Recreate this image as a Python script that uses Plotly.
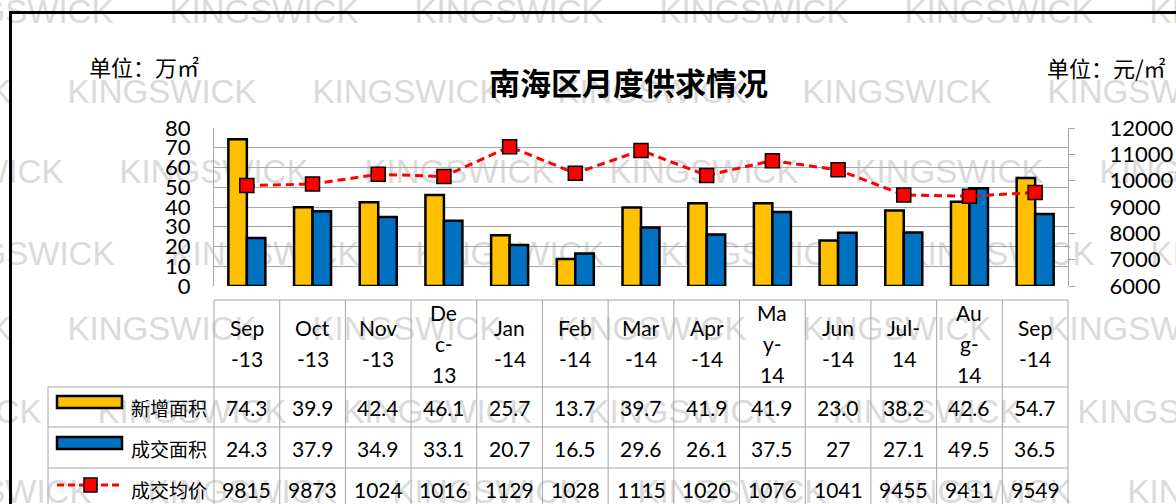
import plotly.graph_objects as go

W, H = 1176, 504

# ---------------- data ----------------
categories = ["Sep-13", "Oct-13", "Nov-13", "Dec-13", "Jan-14", "Feb-14", "Mar-14",
              "Apr-14", "May-14", "Jun-14", "Jul-14", "Aug-14", "Sep-14"]
header_labels = ["Sep\n-13", "Oct\n-13", "Nov\n-13", "De\nc-\n13", "Jan\n-14", "Feb\n-14",
                 "Mar\n-14", "Apr\n-14", "Ma\ny-\n14", "Jun\n-14", "Jul-\n14", "Au\ng-\n14",
                 "Sep\n-14"]
new_supply = [74.3, 39.9, 42.4, 46.1, 25.7, 13.7, 39.7, 41.9, 41.9, 23.0, 38.2, 42.6, 54.7]
deal_area = [24.3, 37.9, 34.9, 33.1, 20.7, 16.5, 29.6, 26.1, 37.5, 27, 27.1, 49.5, 36.5]
avg_price = [9815, 9873, 10240, 10160, 11290, 10280, 11150, 10200, 10760, 10410, 9455, 9411, 9549]
series_names = ["新增面积", "成交面积", "成交均价"]
left_ticks = [0, 10, 20, 30, 40, 50, 60, 70, 80]
right_ticks = [6000, 7000, 8000, 9000, 10000, 11000, 12000]

title_text = "南海区月度供求情况"
unit_left = "单位：万㎡"
unit_right = "单位：元/㎡"
watermark = "KINGSWICK"

# ---------------- styles ----------------
NUM = "Lato, Liberation Sans, sans-serif"
CJK = "Noto Sans CJK SC, sans-serif"
NUM_SIZE = 20
YELLOW = "#FFC000"
BLUE = "#0070C0"
RED = "#FF0000"
GRID = "#a6a6a6"

PL, PR, PT, PB = 214, 1068, 128, 286   # plot area in pixels


def px(x):
    return x / W


def py(y):
    return 1 - y / H


fig = go.Figure()
fig.add_trace(go.Bar(x=categories, y=new_supply, name=series_names[0], yaxis="y",
                     marker=dict(color=YELLOW, line=dict(color="black", width=2.5))))
fig.add_trace(go.Bar(x=categories, y=deal_area, name=series_names[1], yaxis="y",
                     marker=dict(color=BLUE, line=dict(color="black", width=2.5))))
fig.add_trace(go.Scatter(x=categories, y=avg_price, name=series_names[2], yaxis="y2",
                         mode="lines+markers",
                         line=dict(color=RED, width=3, dash="8px,5px"),
                         marker=dict(symbol="square", size=14, color=RED,
                                     line=dict(color="black", width=1.5))))

shapes = []
annotations = []

# ---- watermark (behind everything) ----
wm_rows_y = [8, 88, 168, 250, 325, 408, 488]
wm_rows_x0 = [-78, -180, -128, -77, -180, -150, -100]
for yy, x0 in zip(wm_rows_y, wm_rows_x0):
    cx = x0 + 97
    while cx - 100 < W:
        shapes.append(dict(type="rect", xref="paper", yref="paper",
                           x0=px(cx - 100), x1=px(cx + 100), y0=py(yy + 18), y1=py(yy - 18),
                           line=dict(width=0), fillcolor="rgba(0,0,0,0)", layer="below",
                           label=dict(text=watermark, textposition="middle center",
                                      font=dict(family="Liberation Sans, Arial, sans-serif",
                                                size=33, color="#dadada"))))
        cx += 245

# ---- outer black frame ----
shapes.append(dict(type="line", xref="paper", yref="paper", x0=px(9), x1=px(W + 5),
                   y0=py(12.5), y1=py(12.5), line=dict(color="black", width=3)))
shapes.append(dict(type="line", xref="paper", yref="paper", x0=px(10.5), x1=px(10.5),
                   y0=py(11), y1=py(H + 5), line=dict(color="black", width=3)))

# ---- data table grid ----
n = len(categories)
col_w = (PR - PL) / n
TABLE_TOP, ROW1, ROW2, ROW3, LEG_L = 300, 387, 427, 468, 48


def hline(x0, x1, y):
    shapes.append(dict(type="line", xref="paper", yref="paper", x0=px(x0), x1=px(x1),
                       y0=py(y), y1=py(y), line=dict(color=GRID, width=1)))


def vline(x, y0, y1):
    shapes.append(dict(type="line", xref="paper", yref="paper", x0=px(x), x1=px(x),
                       y0=py(y0), y1=py(y1), line=dict(color=GRID, width=1)))


hline(PL, PR, TABLE_TOP)
for yy in (ROW1, ROW2, ROW3):
    hline(LEG_L, PR, yy)
for i in range(n + 1):
    vline(PL + i * col_w, TABLE_TOP, H + 5)
vline(LEG_L, ROW1, H + 5)

# ---- legend keys in the table ----
shapes.append(dict(type="rect", xref="paper", yref="paper", x0=px(57), x1=px(122),
                   y0=py(408), y1=py(396), fillcolor=YELLOW, line=dict(color="black", width=2.5)))
shapes.append(dict(type="rect", xref="paper", yref="paper", x0=px(57), x1=px(122),
                   y0=py(449), y1=py(437), fillcolor=BLUE, line=dict(color="black", width=2.5)))
shapes.append(dict(type="line", xref="paper", yref="paper", x0=px(57), x1=px(122),
                   y0=py(485), y1=py(485), line=dict(color=RED, width=3, dash="7px,4px")))
shapes.append(dict(type="rect", xref="paper", yref="paper", x0=px(84), x1=px(97),
                   y0=py(492), y1=py(478), fillcolor=RED, line=dict(color="black", width=1.5)))

row_centers = [407, 448, 489]
for name, yc in zip(series_names, row_centers):
    annotations.append(dict(text=name, xref="paper", yref="paper", x=px(129), y=py(yc),
                            xanchor="left", yanchor="middle", showarrow=False,
                            font=dict(family=CJK, size=19, color="black")))

row_texts = [
    [f"{v:.1f}" for v in new_supply],
    [f"{v:g}" for v in deal_area],
    [str(int(v))[:4] for v in avg_price],
]
for texts, yc in zip(row_texts, row_centers):
    for cat, t in zip(categories, texts):
        annotations.append(dict(text=t, xref="x", yref="paper", x=cat, y=py(yc),
                                xanchor="center", yanchor="middle", showarrow=False,
                                font=dict(family=NUM, size=NUM_SIZE + 1, color="black")))

# header (category) labels, wrapped as in the picture
HDR_C, HDR_LS = 343, 31
for cat, lab in zip(categories, header_labels):
    lines = lab.split("\n")
    m = len(lines)
    for k, ln in enumerate(lines):
        yc = HDR_C + (k - (m - 1) / 2) * HDR_LS
        annotations.append(dict(text=ln, xref="x", yref="paper", x=cat, y=py(yc),
                                xanchor="center", yanchor="middle", showarrow=False,
                                font=dict(family=NUM, size=NUM_SIZE + 1, color="black")))

# ---- titles ----
annotations.append(dict(text=f"<b>{title_text}</b>", xref="paper", yref="paper",
                        x=px(628), y=py(82), xanchor="center", yanchor="middle",
                        showarrow=False, font=dict(family=CJK, size=31, color="black")))
annotations.append(dict(text=unit_left, xref="paper", yref="paper", x=px(87), y=py(66),
                        xanchor="left", yanchor="middle", showarrow=False,
                        font=dict(family=CJK, size=22, color="black")))
annotations.append(dict(text=unit_right, xref="paper", yref="paper", x=px(1045), y=py(67),
                        xanchor="left", yanchor="middle", showarrow=False,
                        font=dict(family=CJK, size=22, color="black")))

fig.update_layout(
    width=W, height=H, autosize=False,
    margin=dict(l=0, r=0, t=0, b=0, pad=0, autoexpand=False),
    paper_bgcolor="white", plot_bgcolor="rgba(0,0,0,0)",
    showlegend=False,
    barmode="group", bargap=0.437, bargroupgap=0,
    xaxis=dict(domain=[px(PL), px(PR)], range=[-0.5, n - 0.5], type="category",
               showticklabels=False, showgrid=False, zeroline=False, showline=False,
               ticks="", automargin=False),
    yaxis=dict(domain=[py(PB), py(PT)], range=[0, 80], tickvals=left_ticks,
               ticktext=[str(v) for v in left_ticks],
               showgrid=True, gridcolor=GRID, gridwidth=1, zeroline=False,
               showline=True, linecolor=GRID, linewidth=1, ticks="",
               ticklabelstandoff=18, automargin=False,
               tickfont=dict(family=NUM, size=NUM_SIZE + 2, color="black")),
    yaxis2=dict(overlaying="y", side="right", range=[6000, 12000], tickvals=right_ticks,
                ticktext=[str(v) for v in right_ticks],
                showgrid=False, zeroline=False, showline=True, linecolor=GRID, linewidth=1,
                ticks="outside", ticklen=6, tickcolor=GRID, ticklabelstandoff=30,
                automargin=False,
                tickfont=dict(family=NUM, size=NUM_SIZE + 2, color="black")),
    shapes=shapes,
    annotations=annotations,
)

fig.write_html("out.html", config={"displayModeBar": False},
               post_script="document.body.style.margin='0px';document.body.style.padding='0px';"
                           "document.body.style.overflow='hidden';")
